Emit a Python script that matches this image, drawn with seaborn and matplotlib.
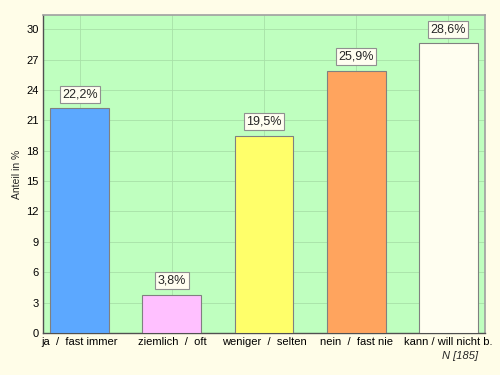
import matplotlib
matplotlib.use("Agg")
import matplotlib.pyplot as plt
import seaborn as sns
import pandas as pd

categories = ["ja  /  fast immer", "ziemlich  /  oft", "weniger  /  selten", "nein  /  fast nie", "kann / will nicht b."]
values = [22.2, 3.8, 19.5, 25.9, 28.6]
labels = ["22,2%", "3,8%", "19,5%", "25,9%", "28,6%"]
colors = ["#5ca8ff", "#ffc0ff", "#ffff6a", "#ffa45e", "#fffef0"]
yticks = [0, 3, 6, 9, 12, 15, 18, 21, 24, 27, 30]

sns.set_style("white")
plt.rcParams['font.family'] = ['Liberation Sans', 'DejaVu Sans']

df = pd.DataFrame({"cat": categories, "val": values})
fig = plt.figure(figsize=(5, 3.75), dpi=100, facecolor="#fffde8")
ax = fig.add_axes([0.086, 0.112, 0.884, 0.848])
ax.set_facecolor("#bfffbf")
sns.barplot(data=df, x="cat", y="val", hue="cat", palette=colors, legend=False,
            width=0.64, edgecolor="#808080", linewidth=0.8, saturation=1, ax=ax, zorder=3)
ax.set_xlim(-0.4, 4.4)
ax.set_ylim(0, 31.4)
ax.set_yticks(yticks)
ax.grid(True, color="#a8e0a8", linewidth=0.6, zorder=0)
ax.set_axisbelow(True)
for s in ["top", "right"]:
    ax.spines[s].set_color("#a0a0a0")
    ax.spines[s].set_linewidth(1.2)
for s in ["left", "bottom"]:
    ax.spines[s].set_color("#505050")
    ax.spines[s].set_linewidth(1.0)
ax.tick_params(axis="both", labelsize=8, length=0, pad=3, colors="#000000")
ax.set_xlabel("")
ax.set_ylabel("Anteil in %", fontsize=7.5, labelpad=3)
for i, (v, t) in enumerate(zip(values, labels)):
    ax.text(i, v + 0.8, t, ha="center", va="bottom", fontsize=9,
            bbox=dict(boxstyle="square,pad=0.2", facecolor="#fffef0", edgecolor="#909090", linewidth=0.8),
            zorder=5)
fig.text(0.92, 0.05, "N [185]", fontsize=8, style="italic", ha="center", va="center")
fig.savefig("out.png", dpi=100, facecolor=fig.get_facecolor())
